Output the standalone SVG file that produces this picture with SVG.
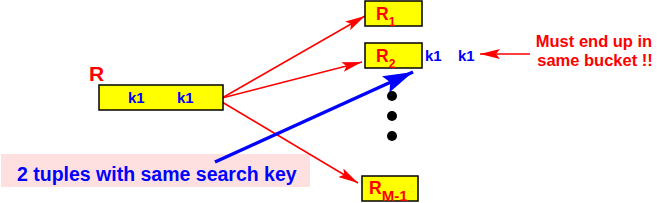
<svg xmlns="http://www.w3.org/2000/svg" width="658" height="203" viewBox="0 0 658 203">
<style>
.box{fill:#ffff00;stroke:#000;stroke-width:1.5}
.rt{font-family:"Liberation Sans",Arial,sans-serif;font-weight:bold;fill:#ff0000}
.nt{font-family:"Liberation Sans",Arial,sans-serif;font-weight:bold;fill:#ff0000;font-size:16.5px;text-anchor:middle}
.bt{font-family:"Liberation Sans",Arial,sans-serif;font-weight:bold;fill:#0000ff}
.red{stroke:#ff0000;stroke-width:1.5;fill:none}
.blue{stroke:#0000ff;stroke-width:3.5;fill:none}
</style>
<defs>
<marker id="ar" viewBox="0 0 20 10" refX="20" refY="5" markerWidth="20" markerHeight="10" markerUnits="userSpaceOnUse" orient="auto"><path d="M0,0 L20,5 L0,10 L4,5 Z" fill="#ff0000"/></marker>
<marker id="ab" viewBox="0 0 30 18" refX="30" refY="9" markerWidth="30" markerHeight="18" markerUnits="userSpaceOnUse" orient="auto"><path d="M0,0 L30,9 L0,18 L5,9 Z" fill="#0000ff"/></marker>
</defs>
<g id="label">
<rect x="1" y="154" width="309" height="33" fill="#ffe0e0"/>
<text class="bt" x="17" y="181" font-size="19.5">2 tuples with same search key</text>
</g>
<g id="connectors">
<line class="red" x1="222" y1="98" x2="365" y2="16" marker-end="url(#ar)"/>
<line class="red" x1="222" y1="98" x2="362" y2="62" marker-end="url(#ar)"/>
<line class="red" x1="222" y1="102" x2="358" y2="183" marker-end="url(#ar)"/>
<line class="blue" x1="215" y1="162" x2="413" y2="72" marker-end="url(#ab)"/>
<line class="red" x1="530" y1="54" x2="480" y2="54" marker-end="url(#ar)"/>
</g>
<g id="R">
<text class="rt" x="89" y="81" font-size="21">R</text>
<rect class="box" x="99" y="85" width="124" height="25"/>
<text class="bt" x="128" y="103" font-size="15">k1</text>
<text class="bt" x="177" y="103" font-size="15">k1</text>
</g>
<g id="R1">
<rect class="box" x="365" y="1" width="57" height="25"/>
<text class="rt" x="376" y="20" font-size="17.5">R<tspan font-size="12" dy="6">1</tspan></text>
</g>
<g id="R2">
<rect class="box" x="365" y="43" width="57" height="25"/>
<text class="rt" x="376" y="62" font-size="17.5">R<tspan font-size="12" dy="6">2</tspan></text>
</g>
<g id="k1pair">
<text class="bt" x="425" y="61" font-size="15">k1</text>
<text class="bt" x="458" y="61" font-size="15">k1</text>
</g>
<g id="dots">
<circle cx="392" cy="96" r="5" fill="#000"/>
<circle cx="392" cy="116" r="5" fill="#000"/>
<circle cx="392" cy="136" r="5" fill="#000"/>
</g>
<g id="RM1">
<rect class="box" x="362" y="176" width="56" height="25"/>
<text class="rt" x="369" y="194" font-size="17.5">R<tspan font-size="15" dy="6.5">M-1</tspan></text>
</g>
<g id="note">
<text class="nt" x="594" y="47">Must end up in</text>
<text class="nt" x="595" y="66">same bucket !!</text>
</g>
</svg>
